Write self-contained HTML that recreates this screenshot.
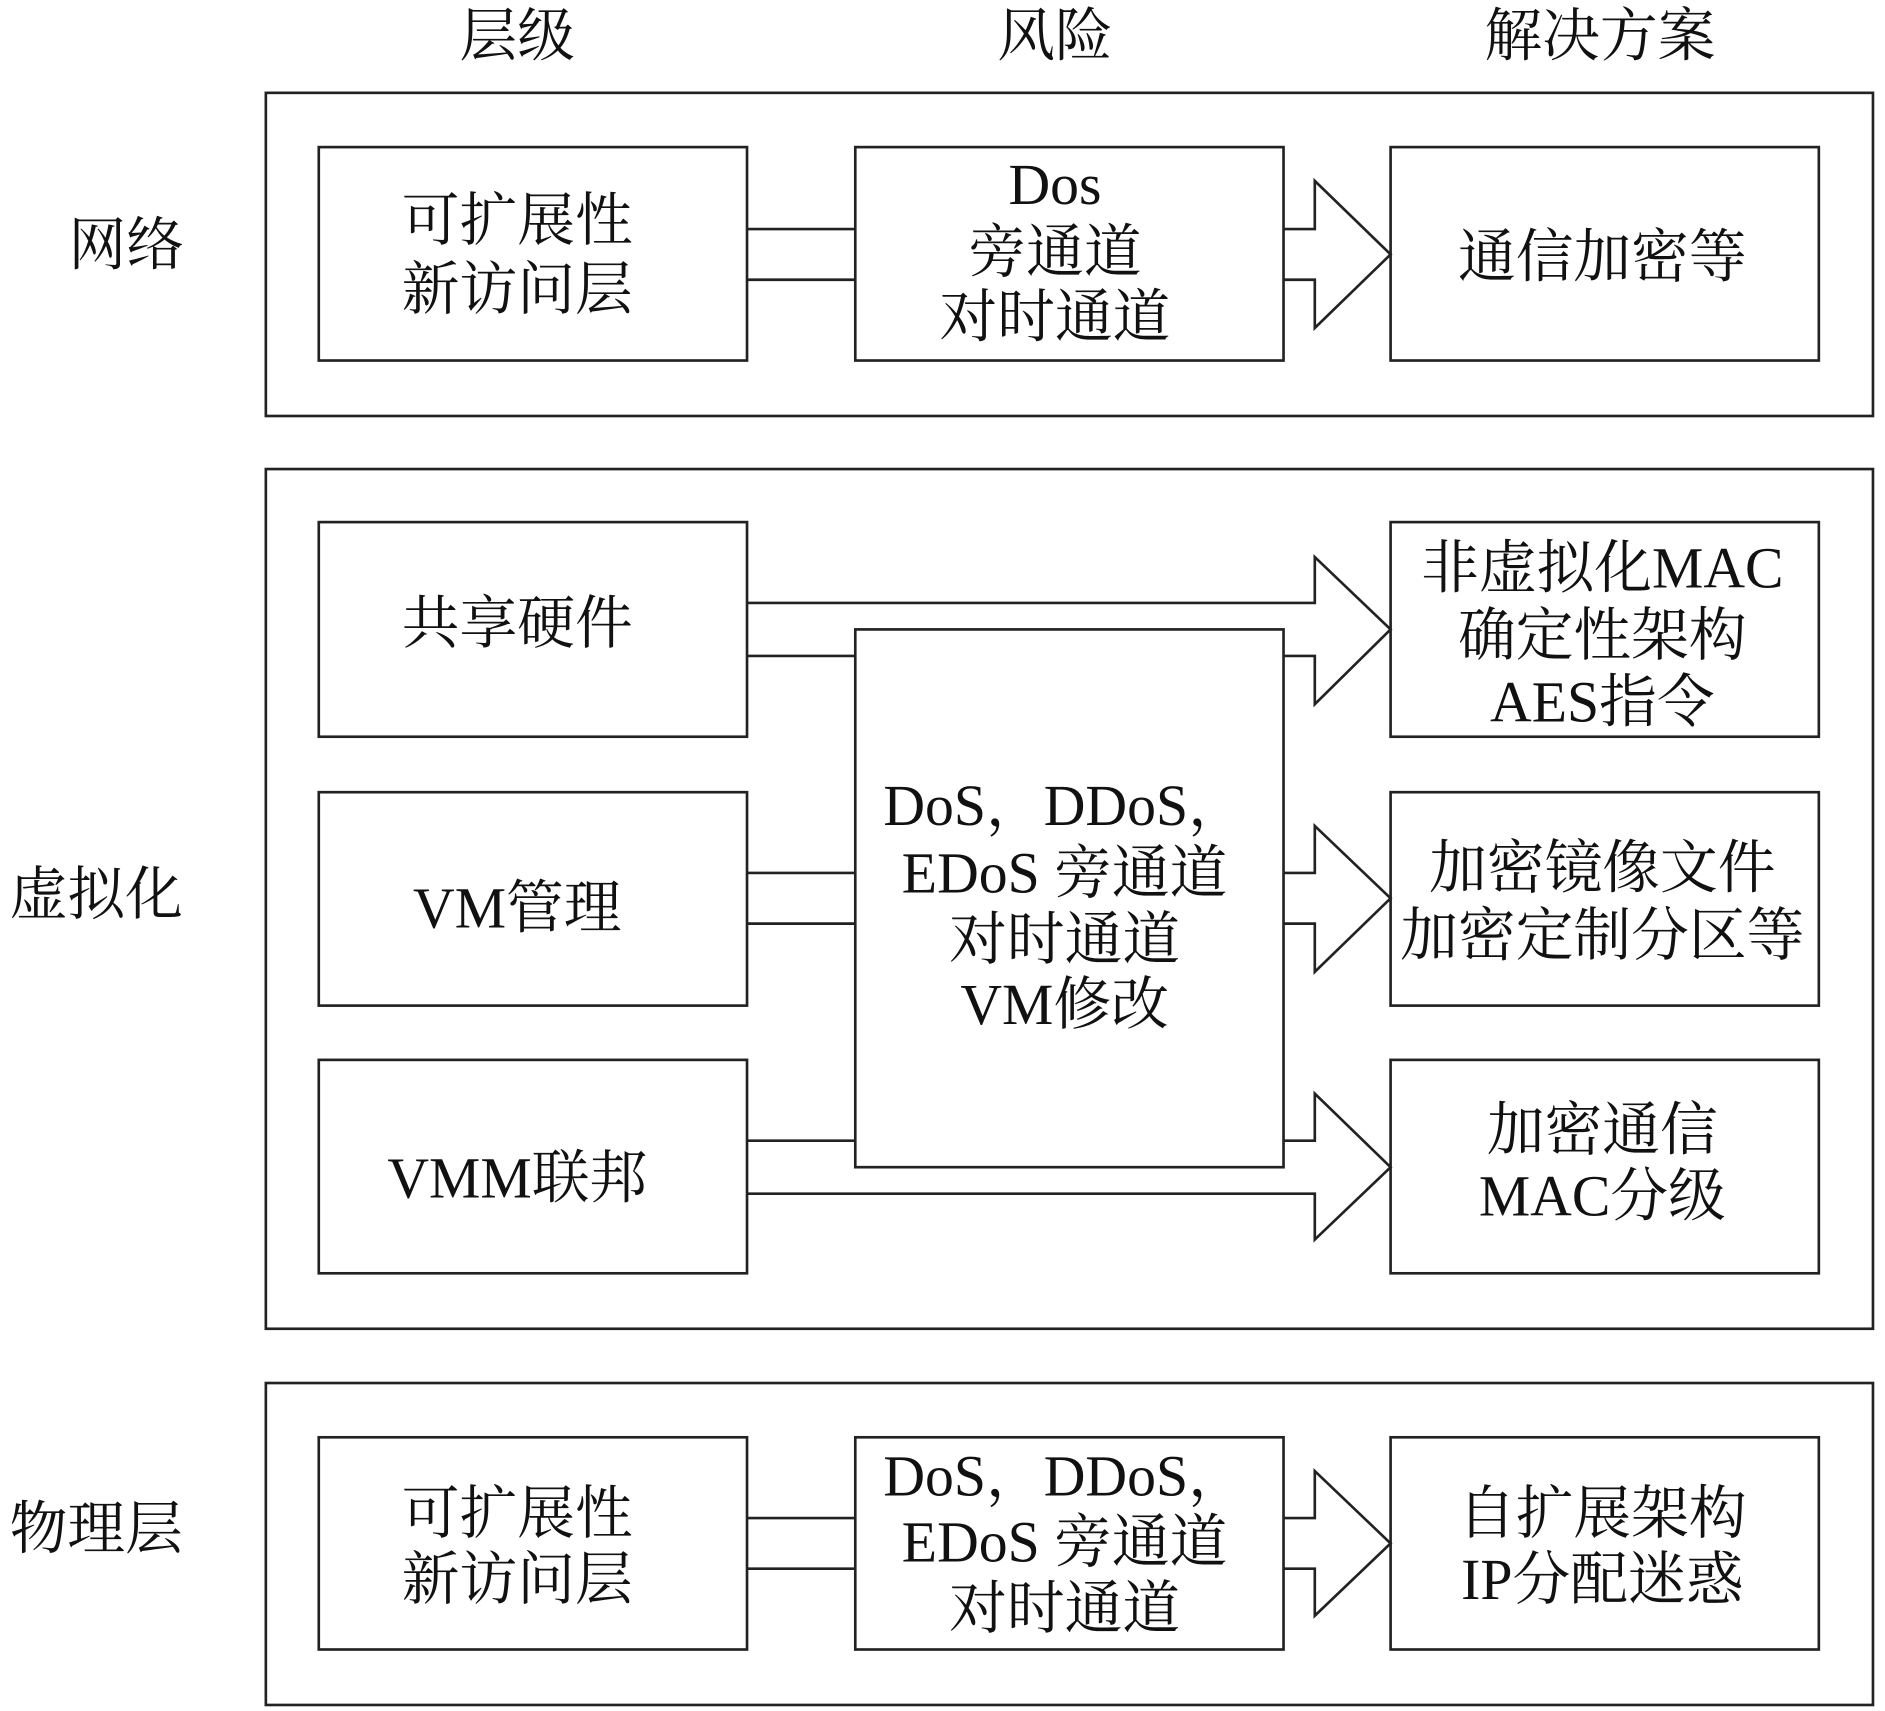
<!DOCTYPE html>
<html><head><meta charset="utf-8"><style>
html,body{margin:0;padding:0;background:#fff;}
svg{display:block;}
text{font-family:"Liberation Serif","Noto Serif CJK SC",serif;font-size:48px;fill:#111;text-anchor:middle;dominant-baseline:central;}
</style></head><body>
<svg width="1885" height="1711" viewBox="0 0 1567 1419" preserveAspectRatio="none" xmlns="http://www.w3.org/2000/svg">
<g fill="#fff" stroke="#222" stroke-width="2.2">
<rect x="221" y="77" width="1336" height="268"/>
<rect x="221" y="389" width="1336" height="713"/>
<rect x="221" y="1147" width="1336" height="267"/>
<rect x="265" y="122" width="356" height="177"/>
<rect x="711" y="122" width="356" height="177"/>
<rect x="1156" y="122" width="356" height="177"/>
<rect x="265" y="433" width="356" height="178"/>
<rect x="265" y="657" width="356" height="177"/>
<rect x="265" y="879" width="356" height="177"/>
<rect x="1156" y="433" width="356" height="178"/>
<rect x="1156" y="657" width="356" height="177"/>
<rect x="1156" y="879" width="356" height="177"/>
<rect x="265" y="1192" width="356" height="176"/>
<rect x="711" y="1192" width="356" height="176"/>
<rect x="1156" y="1192" width="356" height="176"/>
</g>
<g fill="none" stroke="#222" stroke-width="2.2">
<line x1="621" y1="190" x2="711" y2="190"/><line x1="621" y1="232" x2="711" y2="232"/>
<polyline points="1067,190 1093,190 1093,150 1156,211 1093,272 1093,232 1067,232"/>
<line x1="621" y1="544" x2="711" y2="544"/>
<polyline points="621,500 1093,500 1093,462 1156,522 1093,584 1093,544 1067,544"/>
<line x1="621" y1="724" x2="711" y2="724"/><line x1="621" y1="766" x2="711" y2="766"/>
<polyline points="1067,724 1093,724 1093,685 1156,745 1093,806 1093,766 1067,766"/>
<line x1="621" y1="946" x2="711" y2="946"/>
<polyline points="1067,946 1093,946 1093,907 1156,968 1093,1028 1093,990 621,990"/>
<line x1="621" y1="1259" x2="711" y2="1259"/><line x1="621" y1="1301" x2="711" y2="1301"/>
<polyline points="1067,1259 1093,1259 1093,1220 1156,1280 1093,1340 1093,1301 1067,1301"/>
</g>
<rect x="711" y="522" width="356" height="446" fill="#fff" stroke="#222" stroke-width="2.2"/>
<text x="430" y="30">层级</text>
<text x="877" y="30">风险</text>
<text x="1330" y="30">解决方案</text>
<text x="105" y="203">网络</text>
<text x="80" y="742">虚拟化</text>
<text x="80" y="1268">物理层</text>
<text x="430" y="183">可扩展性</text><text x="430" y="240">新访问层</text>
<text x="877" y="153">Dos</text><text x="877" y="209">旁通道</text><text x="877" y="263">对时通道</text>
<text x="1332" y="213">通信加密等</text>
<text x="430" y="517">共享硬件</text>
<text x="430" y="753">VM管理</text>
<text x="430" y="977">VMM联邦</text>
<text x="885" y="668">DoS，DDoS，</text>
<text x="885" y="724">EDoS 旁通道</text>
<text x="885" y="779">对时通道</text>
<text x="885" y="833">VM修改</text>
<text x="1332" y="471">非虚拟化MAC</text><text x="1332" y="527">确定性架构</text><text x="1332" y="582">AES指令</text>
<text x="1332" y="720">加密镜像文件</text><text x="1332" y="776">加密定制分区等</text>
<text x="1332" y="937">加密通信</text><text x="1332" y="992">MAC分级</text>
<text x="430" y="1255">可扩展性</text><text x="430" y="1310">新访问层</text>
<text x="885" y="1224">DoS，DDoS，</text><text x="885" y="1279">EDoS 旁通道</text><text x="885" y="1334">对时通道</text>
<text x="1332" y="1255">自扩展架构</text><text x="1332" y="1310">IP分配迷惑</text>
</svg>
</body></html>
